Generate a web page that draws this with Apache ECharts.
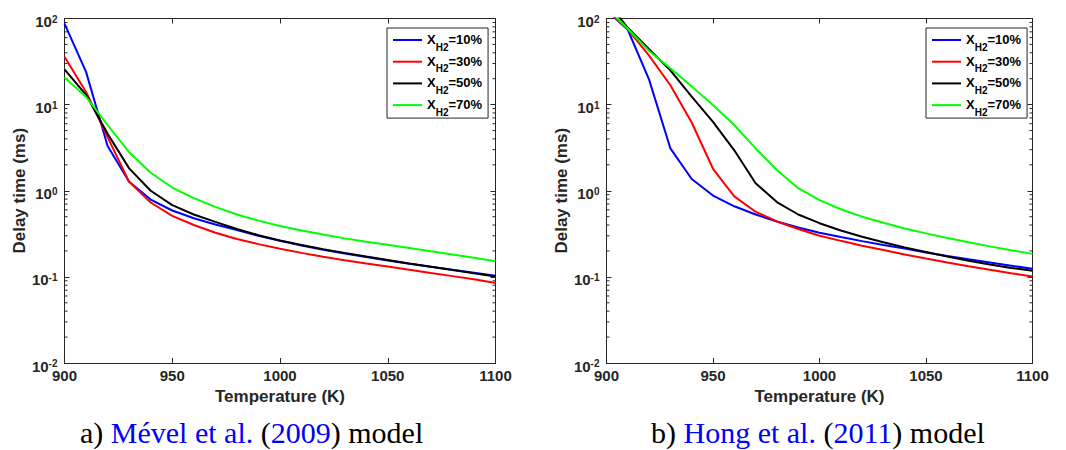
<!DOCTYPE html>
<html>
<head>
<meta charset="utf-8">
<script src="https://cdn.jsdelivr.net/npm/echarts@6/dist/echarts.min.js"></script>
<style>
  html, body { margin: 0; padding: 0; background: #ffffff; }
  #chart { width: 1066px; height: 450px; }
</style>
</head>
<body>
<div id="chart"></div>
<script>
// Temperatures (K) at which ignition delay was computed
const temperatures = [900, 910, 920, 930, 940, 950, 960, 970, 980, 990, 1000,
                      1010, 1020, 1030, 1040, 1050, 1060, 1070, 1080, 1090, 1100];

// Hydrogen fractions in the fuel blend (legend entries)
const h2Fractions = ['10%', '30%', '50%', '70%'];
const lineColors = ['#0000ff', '#ff0000', '#000000', '#00ff00'];

// Delay time (ms) — Mével et al. (2009) mechanism
const mevelH2_10 = [87, 24, 3.3, 1.27, 0.79, 0.59, 0.48, 0.405, 0.35, 0.30, 0.262,
                    0.232, 0.207, 0.187, 0.17, 0.155, 0.142, 0.131, 0.121, 0.112, 0.103];
const mevelH2_30 = [36, 14, 4.2, 1.27, 0.73, 0.51, 0.40, 0.325, 0.275, 0.24, 0.212,
                    0.19, 0.171, 0.156, 0.143, 0.132, 0.121, 0.111, 0.102, 0.094, 0.085];
const mevelH2_50 = [25.6, 13, 4.6, 1.82, 1.0, 0.68, 0.53, 0.435, 0.36, 0.305, 0.265,
                    0.235, 0.21, 0.19, 0.172, 0.157, 0.143, 0.131, 0.12, 0.11, 0.101];
const mevelH2_70 = [20.7, 12.3, 5.8, 2.8, 1.62, 1.09, 0.82, 0.65, 0.53, 0.45, 0.39,
                    0.345, 0.31, 0.28, 0.256, 0.236, 0.216, 0.198, 0.182, 0.167, 0.152];

// Delay time (ms) — Hong et al. (2011) mechanism
const hongH2_10 = [125, 74, 19.5, 3.1, 1.37, 0.88, 0.66, 0.53, 0.44, 0.375, 0.325,
                   0.29, 0.26, 0.235, 0.213, 0.192, 0.175, 0.16, 0.147, 0.135, 0.124];
const hongH2_30 = [125, 75, 37, 16.8, 6.2, 1.8, 0.86, 0.57, 0.44, 0.36, 0.30,
                   0.262, 0.23, 0.205, 0.182, 0.163, 0.147, 0.133, 0.121, 0.11, 0.101];
const hongH2_50 = [160, 78, 44, 25, 12.4, 6.3, 2.95, 1.22, 0.74, 0.53, 0.42,
                   0.345, 0.292, 0.252, 0.22, 0.194, 0.172, 0.154, 0.139, 0.127, 0.118];
const hongH2_70 = [135, 76, 42, 26.5, 16.2, 9.9, 5.8, 3.1, 1.74, 1.07, 0.78,
                   0.61, 0.5, 0.425, 0.365, 0.32, 0.283, 0.252, 0.226, 0.204, 0.185];

// Axis ranges and ticks
const xMin = 900, xMax = 1100, xStep = 50;
const yMin = 0.01, yMax = 100;
const decadeExponents = [-2, -1, 0, 1];
const minorMantissas = [2, 3, 4, 5, 6, 7, 8, 9];

// Caption fragments: [text, style key]
const captionLeft = [['a) ', 'n'], ['Mével et al.', 'c'], [' (', 'n'], ['2009', 'c'], [') model', 'n']];
const captionRight = [['b) ', 'n'], ['Hong et al.', 'c'], [' (', 'n'], ['2011', 'c'], [') model', 'n']];

const mevelSets = [mevelH2_10, mevelH2_30, mevelH2_50, mevelH2_70];
const hongSets = [hongH2_10, hongH2_30, hongH2_50, hongH2_70];

const axisColor = '#262626';
const sansFont = '"Liberation Sans", Arial, Helvetica, sans-serif';
const serifFont = '"Liberation Serif", "Times New Roman", serif';

// minor tick positions on the log axis (2..9 within each decade)
const minorTickValues = [];
decadeExponents.forEach(e => minorMantissas.forEach(m => minorTickValues.push(m * Math.pow(10, e))));

const panels = [
  { left: 64.5, top: 18.5, width: 431, height: 344.5, sets: mevelSets, legendLeft: 387, yNameGap: 37 },
  { left: 606.5, top: 18.5, width: 426, height: 344.5, sets: hongSets, legendLeft: 926, yNameGap: 35 }
];

const grids = [], xAxes = [], yAxes = [], series = [], legends = [];

panels.forEach((p, gi) => {
  grids.push({ left: p.left, top: p.top, width: p.width, height: p.height, containLabel: false });

  // bottom x axis with labels, top x axis closes the box
  ['bottom', 'top'].forEach(pos => {
    xAxes.push({
      type: 'value', gridIndex: gi, position: pos, min: xMin, max: xMax, interval: xStep,
      axisLine: { show: true, onZero: false, lineStyle: { color: axisColor, width: 1 } },
      axisTick: { show: true, inside: true, length: 5, lineStyle: { color: axisColor } },
      splitLine: { show: false },
      axisLabel: pos === 'bottom' ? {
        show: true, margin: 5, color: axisColor, fontFamily: sansFont, fontWeight: 'bold', fontSize: 15,
        formatter: v => String(v)
      } : { show: false },
      name: pos === 'bottom' ? 'Temperature (K)' : '',
      nameLocation: 'middle', nameGap: 21,
      nameTextStyle: { color: axisColor, fontFamily: sansFont, fontWeight: 'bold', fontSize: 17 }
    });
  });

  // left (labelled) and right log axes with decade ticks
  ['left', 'right'].forEach(pos => {
    yAxes.push({
      type: 'log', logBase: 10, gridIndex: gi, position: pos, min: yMin, max: yMax,
      axisLine: { show: true, onZero: false, lineStyle: { color: axisColor, width: 1 } },
      axisTick: { show: true, inside: true, length: 5, lineStyle: { color: axisColor } },
      splitLine: { show: false },
      minorTick: { show: false },
      axisLabel: pos === 'left' ? {
        show: true, margin: 7, padding: [6, 0, 0, 0],
        formatter: v => '{b|10}{s|' + Math.round(Math.log10(v)) + '}',
        rich: {
          b: { fontFamily: sansFont, fontWeight: 'bold', fontSize: 15, lineHeight: 15, color: axisColor, verticalAlign: 'bottom' },
          s: { fontFamily: sansFont, fontWeight: 'bold', fontSize: 10, lineHeight: 10, color: axisColor, verticalAlign: 'top', padding: [0, 0, 10, 0] }
        }
      } : { show: false },
      name: pos === 'left' ? 'Delay time (ms)' : '',
      nameLocation: 'middle', nameGap: p.yNameGap,
      nameTextStyle: { color: axisColor, fontFamily: sansFont, fontWeight: 'bold', fontSize: 17 }
    });
  });

  const xIdx = gi * 2, yIdx = gi * 2;

  // short inward minor ticks on both vertical edges, placed by the log scale
  series.push({
    type: 'custom', xAxisIndex: xIdx, yAxisIndex: yIdx, silent: true, clip: false,
    data: minorTickValues.map(v => [xMin, v]),
    renderItem: (params, api) => {
      const v = api.value(1);
      const a = api.coord([xMin, v]);
      const b = api.coord([xMax, v]);
      const st = { stroke: axisColor, lineWidth: 1 };
      return {
        type: 'group',
        children: [
          { type: 'line', shape: { x1: a[0], y1: a[1], x2: a[0] + 3, y2: a[1] }, style: st },
          { type: 'line', shape: { x1: b[0], y1: b[1], x2: b[0] - 3, y2: b[1] }, style: st }
        ]
      };
    },
    animation: false
  });

  p.sets.forEach((vals, si) => {
    series.push({
      type: 'line', name: h2Fractions[si], xAxisIndex: xIdx, yAxisIndex: yIdx,
      data: temperatures.map((t, i) => [t, vals[i]]),
      symbol: 'none', showSymbol: false, clip: true, smooth: false,
      lineStyle: { color: lineColors[si], width: 2 },
      itemStyle: { color: lineColors[si] },
      emphasis: { disabled: true }, animation: false
    });
  });

  legends.push({
    left: p.legendLeft, top: 28, orient: 'vertical',
    data: h2Fractions.map(n => ({ name: n, icon: 'rect' })), selectedMode: false,
    itemWidth: 29, itemHeight: 2, itemGap: 2.7,
    padding: [5, 6, 1, 6],
    borderColor: axisColor, borderWidth: 1, backgroundColor: '#ffffff',
    formatter: name => '{x|X}{s|H2}{x|=' + name + '}',
    textStyle: {
      rich: {
        x: { fontFamily: sansFont, fontWeight: 'bold', fontSize: 13, lineHeight: 14, color: '#000', verticalAlign: 'top' },
        s: { fontFamily: sansFont, fontWeight: 'bold', fontSize: 10, lineHeight: 10, color: '#000', verticalAlign: 'top', padding: [9, 0, 0, 0] }
      }
    }
  });
});

function captionText(parts) {
  return parts.map(([t, k]) => '{' + k + '|' + t + '}').join('');
}
const captionRich = {
  n: { fontFamily: serifFont, fontSize: 30, fill: '#000000', color: '#000000' },
  c: { fontFamily: serifFont, fontSize: 30, fill: '#0000ff', color: '#0000ff' }
};

const chart = echarts.init(document.getElementById('chart'), null, { renderer: 'svg' });
chart.setOption({
  animation: false,
  backgroundColor: '#ffffff',
  grid: grids,
  xAxis: xAxes,
  yAxis: yAxes,
  series: series,
  legend: legends,
  graphic: [
    { type: 'text', left: 80, top: 417, style: { text: captionText(captionLeft), rich: captionRich } },
    { type: 'text', left: 651, top: 417, style: { text: captionText(captionRight), rich: captionRich } }
  ]
});
</script>
</body>
</html>
